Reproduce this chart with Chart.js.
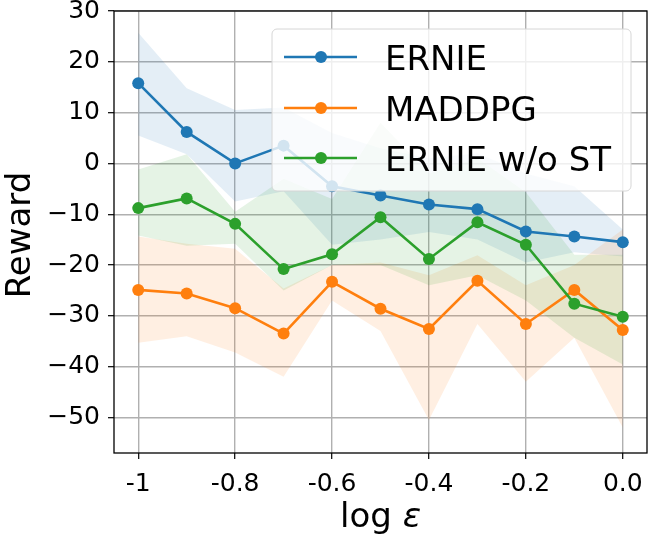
<!DOCTYPE html>
<html>
<head>
<meta charset="utf-8">
<title>Reward vs log epsilon</title>
<script src="https://cdn.jsdelivr.net/npm/chart.js@4.4.1/dist/chart.umd.min.js"></script>
<style>
  html, body { margin: 0; padding: 0; background: #ffffff; }
  #wrap { width: 660px; height: 539px; position: relative; }
</style>
</head>
<body>
<div id="wrap"><canvas id="my-chart"></canvas></div>
<script>
'use strict';

// *********** DATA ****************

let logEps = [-1, -0.9, -0.8, -0.7, -0.6, -0.5, -0.4, -0.3, -0.2, -0.1, 0.0];

let ernie = [15.8, 6.2, 0.0, 3.5, -4.5, -6.3, -8.1, -9.0, -13.4, -14.4, -15.5];
let ernieUpper = [25.7, 14.8, 10.5, 11, 6, 3, 1, 2, -2, -4.5, -13];
let ernieLower = [5.5, 1.8, -7.5, -5.5, -16, -15, -13.5, -15, -19.5, -17.5, -18.3];

let maddpg = [-24.9, -25.6, -28.5, -33.5, -23.3, -28.6, -32.6, -23.1, -31.6, -24.9, -32.8];
let maddpgUpper = [-14.4, -15.8, -16.8, -24.6, -20, -19.5, -22, -18.1, -24, -20, -13];
let maddpgLower = [-35.3, -34, -37.2, -42, -27, -33, -50.5, -31.6, -43, -34.3, -52];

let ernieNoSt = [-8.8, -6.9, -11.9, -20.8, -17.9, -10.6, -18.8, -11.6, -16.0, -27.6, -30.2];
let ernieNoStUpper = [-1.2, 1.8, -9.5, -3, -7, 8, -2, 1, -5.7, -18, -18];
let ernieNoStLower = [-14.2, -16.2, -15.8, -25, -20, -20, -24, -22, -27, -34.3, -39.6];

let seriesNames = ['ERNIE', 'MADDPG', 'ERNIE w/o ST'];

let xTicks = [-1, -0.8, -0.6, -0.4, -0.2, 0.0];
let xTickLabels = ['-1', '-0.8', '-0.6', '-0.4', '-0.2', '0.0'];
let yTicks = [30, 20, 10, 0, -10, -20, -30, -40, -50];
let yTickLabels = ['30', '20', '10', '0', '\u221210', '\u221220', '\u221230', '\u221240', '\u221250'];

// ********** STYLE ****************

let colors = ['#1f77b4', '#ff7f0e', '#2ca02c'];
let bandColors = ['rgba(31,119,180,0.12)', 'rgba(255,127,14,0.12)', 'rgba(44,160,44,0.12)'];
let fontFamily = '"DejaVu Sans", sans-serif';

// ********** HELPERS ****************

function toPoints(values) {
  let pts = [];
  for (let i = 0; i < logEps.length; i++) {
    pts.push({ x: logEps[i], y: values[i] });
  }
  return pts;
}

function bandDatasets(lower, upper, color) {
  return [
    {
      label: 'lower',
      data: toPoints(lower),
      pointRadius: 0,
      borderWidth: 0,
      fill: false
    },
    {
      label: 'upper',
      data: toPoints(upper),
      pointRadius: 0,
      borderWidth: 0,
      backgroundColor: color,
      fill: '-1'
    }
  ];
}

function lineDataset(name, values, color) {
  return {
    label: name,
    data: toPoints(values),
    borderColor: color,
    backgroundColor: color,
    pointBackgroundColor: color,
    pointBorderColor: color,
    borderWidth: 2.6,
    pointRadius: 6,
    pointBorderWidth: 0,
    tension: 0,
    fill: false
  };
}

// lines first so they sit on top (index 0 drawn last)
let datasets = [
  lineDataset(seriesNames[2], ernieNoSt, colors[2]),
  lineDataset(seriesNames[1], maddpg, colors[1]),
  lineDataset(seriesNames[0], ernie, colors[0])
]
  .concat(bandDatasets(ernieNoStLower, ernieNoStUpper, bandColors[2]))
  .concat(bandDatasets(maddpgLower, maddpgUpper, bandColors[1]))
  .concat(bandDatasets(ernieLower, ernieUpper, bandColors[0]));

// ********** PLUGINS ****************

// frame round the plot, like matplotlib spines
let framePlugin = {
  id: 'frame',
  afterDatasetsDraw(chart) {
    let a = chart.chartArea;
    let c = chart.ctx;
    c.save();
    c.strokeStyle = '#000000';
    c.lineWidth = 1.3;
    c.strokeRect(a.left, a.top, a.right - a.left, a.bottom - a.top);
    c.restore();
  }
};

// legend box in the upper right corner
let legendPlugin = {
  id: 'boxLegend',
  afterDraw(chart) {
    let c = chart.ctx;
    let bx = 272, by = 29, bw = 359, bh = 162, r = 5;
    c.save();
    c.beginPath();
    c.moveTo(bx + r, by);
    c.lineTo(bx + bw - r, by);
    c.arcTo(bx + bw, by, bx + bw, by + r, r);
    c.lineTo(bx + bw, by + bh - r);
    c.arcTo(bx + bw, by + bh, bx + bw - r, by + bh, r);
    c.lineTo(bx + r, by + bh);
    c.arcTo(bx, by + bh, bx, by + bh - r, r);
    c.lineTo(bx, by + r);
    c.arcTo(bx, by, bx + r, by, r);
    c.closePath();
    c.fillStyle = 'rgba(255,255,255,0.8)';
    c.fill();
    c.strokeStyle = '#d6d6d6';
    c.lineWidth = 1;
    c.stroke();

    let rows = [57, 108, 158];
    for (let i = 0; i < seriesNames.length; i++) {
      let y = rows[i];
      c.strokeStyle = colors[i];
      c.lineWidth = 2.6;
      c.beginPath();
      c.moveTo(284, y);
      c.lineTo(357, y);
      c.stroke();
      c.fillStyle = colors[i];
      c.beginPath();
      c.arc(321, y, 6, 0, Math.PI * 2);
      c.fill();
      c.fillStyle = '#000000';
      c.font = '34px ' + fontFamily;
      c.textAlign = 'left';
      c.textBaseline = 'alphabetic';
      c.fillText(seriesNames[i], 385, y + 12.5);
    }
    c.restore();
  }
};

// axis titles: "Reward" rotated, "log ε" with italic epsilon
let titlePlugin = {
  id: 'axisTitles',
  afterDraw(chart) {
    let c = chart.ctx;
    let a = chart.chartArea;
    c.save();
    c.fillStyle = '#000000';
    c.textBaseline = 'middle';
    c.textAlign = 'center';
    c.font = '34px ' + fontFamily;
    c.translate(21, (a.top + a.bottom) / 2 + 3);
    c.rotate(-Math.PI / 2);
    c.fillText('Reward', 0, 0);
    c.restore();

    c.save();
    c.fillStyle = '#000000';
    c.textBaseline = 'alphabetic';
    c.textAlign = 'left';
    let partA = 'log ';
    let partB = '\u03b5';
    c.font = '34px ' + fontFamily;
    let wA = c.measureText(partA).width;
    c.font = 'italic 34px ' + fontFamily;
    let wB = c.measureText(partB).width;
    let x0 = (a.left + a.right) / 2 - (wA + wB) / 2;
    c.font = '34px ' + fontFamily;
    c.fillText(partA, x0, 527);
    c.font = 'italic 34px ' + fontFamily;
    c.fillText(partB, x0 + wA, 527);
    c.restore();
  }
};

// ********** CHART ****************

let ctx = document.getElementById('my-chart').getContext('2d');

let myChartObj = {
  type: 'line',
  data: { datasets: datasets },
  options: {
    responsive: true,
    maintainAspectRatio: false,
    animation: false,
    layout: { padding: { left: 0, top: 11, right: 13, bottom: 0 } },
    plugins: {
      legend: { display: false },
      tooltip: { enabled: false }
    },
    scales: {
      x: {
        type: 'linear',
        min: -1.05,
        max: 0.05,
        afterBuildTicks(scale) {
          scale.ticks = xTicks.map(v => ({ value: v }));
        },
        afterFit(scale) {
          scale.height = 86;
          scale.paddingLeft = 0;
          scale.paddingRight = 0;
        },
        ticks: {
          autoSkip: false,
          maxRotation: 0,
          padding: 10,
          color: '#000000',
          font: { family: fontFamily, size: 25 },
          callback: function (value) {
            let i = xTicks.indexOf(value);
            return i >= 0 ? xTickLabels[i] : '';
          }
        },
        grid: {
          color: '#b0b0b0',
          lineWidth: 1.4,
          tickLength: 6,
          tickColor: '#000000',
          tickWidth: 1.2
        },
        border: { display: false }
      },
      y: {
        type: 'linear',
        min: -57,
        max: 30,
        afterBuildTicks(scale) {
          scale.ticks = yTicks.map(v => ({ value: v }));
        },
        afterFit(scale) {
          scale.width = 114;
          scale.paddingTop = 0;
          scale.paddingBottom = 0;
        },
        ticks: {
          autoSkip: false,
          padding: 8,
          color: '#000000',
          font: { family: fontFamily, size: 25 },
          callback: function (value) {
            let i = yTicks.indexOf(value);
            return i >= 0 ? yTickLabels[i] : '';
          }
        },
        grid: {
          color: '#b0b0b0',
          lineWidth: 1.4,
          tickLength: 6,
          tickColor: '#000000',
          tickWidth: 1.2
        },
        border: { display: false }
      }
    }
  },
  plugins: [framePlugin, legendPlugin, titlePlugin]
};

new Chart(ctx, myChartObj);
</script>
</body>
</html>
